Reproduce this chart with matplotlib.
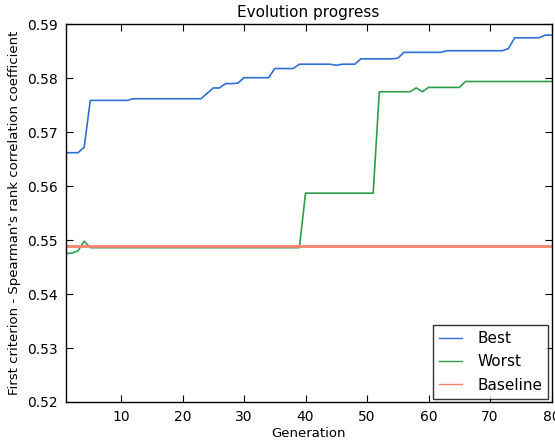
import numpy as np
import matplotlib
matplotlib.use("Agg")
import matplotlib.pyplot as plt

# values
generations = list(range(1, 81))
best = [0.5662, 0.5662, 0.5662, 0.5672, 0.5759, 0.5759, 0.5759, 0.5759, 0.5759, 0.5759,
        0.5759, 0.5762, 0.5762, 0.5762, 0.5762, 0.5762, 0.5762, 0.5762, 0.5762, 0.5762,
        0.5762, 0.5762, 0.5762, 0.5772, 0.5782, 0.5782, 0.5790, 0.5790, 0.5791, 0.5801,
        0.5801, 0.5801, 0.5801, 0.5801, 0.5818, 0.5818, 0.5818, 0.5818, 0.5826, 0.5826,
        0.5826, 0.5826, 0.5826, 0.5826, 0.5824, 0.5826, 0.5826, 0.5826, 0.5836, 0.5836,
        0.5836, 0.5836, 0.5836, 0.5836, 0.5837, 0.5848, 0.5848, 0.5848, 0.5848, 0.5848,
        0.5848, 0.5848, 0.5851, 0.5851, 0.5851, 0.5851, 0.5851, 0.5851, 0.5851, 0.5851,
        0.5851, 0.5851, 0.5855, 0.5875, 0.5875, 0.5875, 0.5875, 0.5875, 0.5880, 0.5880]
worst = [0.5475, 0.5476, 0.5480, 0.5498, 0.5486, 0.5486, 0.5486, 0.5486, 0.5486, 0.5486,
         0.5486, 0.5486, 0.5486, 0.5486, 0.5486, 0.5486, 0.5486, 0.5486, 0.5486, 0.5486,
         0.5486, 0.5486, 0.5486, 0.5486, 0.5486, 0.5486, 0.5486, 0.5486, 0.5486, 0.5486,
         0.5486, 0.5486, 0.5486, 0.5486, 0.5486, 0.5486, 0.5486, 0.5486, 0.5486, 0.5587,
         0.5587, 0.5587, 0.5587, 0.5587, 0.5587, 0.5587, 0.5587, 0.5587, 0.5587, 0.5587,
         0.5587, 0.5775, 0.5775, 0.5775, 0.5775, 0.5775, 0.5775, 0.5782, 0.5775, 0.5783,
         0.5783, 0.5783, 0.5783, 0.5783, 0.5783, 0.5794, 0.5794, 0.5794, 0.5794, 0.5794,
         0.5794, 0.5794, 0.5794, 0.5794, 0.5794, 0.5794, 0.5794, 0.5794, 0.5794, 0.5794]
baseline_value = 0.5489
baseline = [baseline_value for g in generations]

fig = plt.figure(figsize=(5.55, 4.4), dpi=100)
ax = fig.add_axes([0.1184, 0.0864, 0.8753, 0.8584])

ax.plot(generations, best, color="#2f6fd6", lw=1.2, label="Best")
ax.plot(generations, worst, color="#2e9e4a", lw=1.2, label="Worst")
ax.plot(generations, baseline, color="#f5836c", lw=2.0, label="Baseline")

ax.set_xlim(1, 80)
ax.set_ylim(0.52, 0.59)
ax.set_xticks([10, 20, 30, 40, 50, 60, 70, 80])
ax.set_yticks(np.arange(0.52, 0.5901, 0.01))
ax.set_yticklabels(["0.52", "0.53", "0.54", "0.55", "0.56", "0.57", "0.58", "0.59"])
ax.tick_params(direction="in", top=True, right=True, length=5, labelsize=10, pad=6)
for s in ax.spines.values():
    s.set_linewidth(1.0)

ax.set_title("Evolution progress", fontsize=11, pad=5)
ax.set_xlabel("Generation", fontsize=9.5, labelpad=2)
ax.set_ylabel("First criterion - Spearman's rank correlation coefficient", fontsize=9.5, labelpad=4)

leg = ax.legend(loc="lower right", fontsize=11, fancybox=False, edgecolor="black",
                borderaxespad=0.2, handlelength=1.5, labelspacing=0.55, handletextpad=1.0)
leg.get_frame().set_linewidth(1.0)
for h in leg.get_lines():
    h.set_linewidth(1.0)

plt.savefig("out.png", dpi=100)
